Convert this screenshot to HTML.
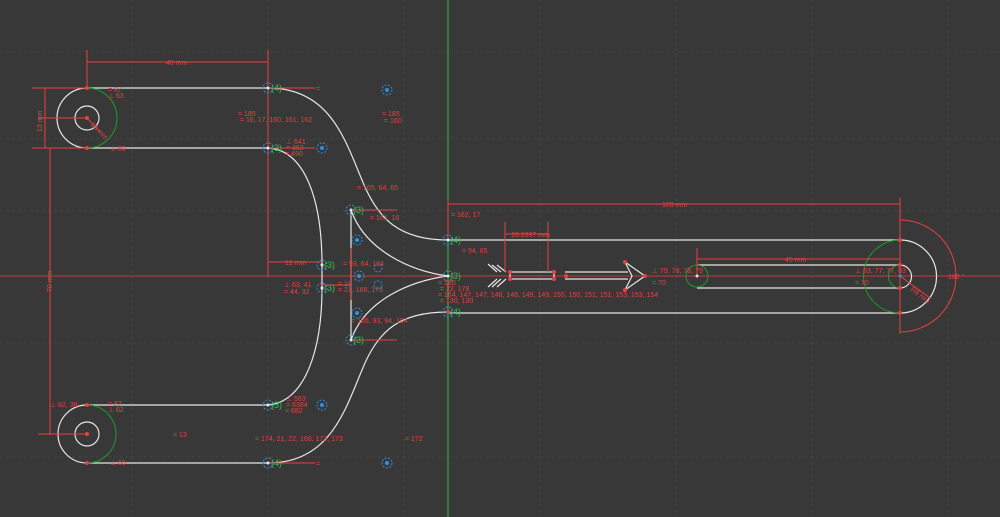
<!DOCTYPE html>
<html><head><meta charset="utf-8"><style>
html,body{margin:0;padding:0;background:#383838;}
svg{display:block;}
text{font-family:"Liberation Sans",sans-serif;font-size:7px;fill:#e8413f;}
</style></head><body>
<svg width="1000" height="517" viewBox="0 0 1000 517" xmlns="http://www.w3.org/2000/svg">
<rect width="1000" height="517" fill="#383838"/>
<g stroke="#444" stroke-width="1" stroke-dasharray="3,3">
<line x1="132" y1="0" x2="132" y2="517"/><line x1="268" y1="0" x2="268" y2="517"/><line x1="404" y1="0" x2="404" y2="517"/><line x1="540" y1="0" x2="540" y2="517"/><line x1="676" y1="0" x2="676" y2="517"/><line x1="812" y1="0" x2="812" y2="517"/><line x1="948" y1="0" x2="948" y2="517"/>
<line x1="0" y1="52" x2="1000" y2="52"/><line x1="0" y1="139" x2="1000" y2="139"/><line x1="0" y1="211" x2="1000" y2="211"/><line x1="0" y1="343" x2="1000" y2="343"/><line x1="0" y1="457" x2="1000" y2="457"/>
</g>
<line x1="0" y1="276" x2="1000" y2="276" stroke="#c93a3a" stroke-width="1"/>
<line x1="448" y1="0" x2="448" y2="517" stroke="#2fc24a" stroke-width="1"/>

<g fill="none" stroke="#e6e6e6" stroke-width="1.2">
<circle cx="87" cy="118" r="12"/>
<path d="M87,88 A30,30 0 0 0 87,148"/>
<line x1="87" y1="88" x2="268" y2="88"/>
<line x1="87" y1="148" x2="268" y2="148"/>
<circle cx="87" cy="434" r="12"/>
<path d="M87,405 A29,29 0 0 0 87,463"/>
<line x1="87" y1="405" x2="268" y2="405"/>
<line x1="87" y1="463" x2="268" y2="463"/>
<path d="M268,88 C330,88 345,140 362,180 C378,220 400,240 448,240"/>
<path d="M268,463 C330,463 345,410 362,370 C378,330 400,312 448,312"/>
<path d="M268,148 C305,150 322,200 322,265 L322,288 C322,350 305,402 268,405"/>
<path d="M351,210 C365,250 410,271 448,276 C410,281 365,300 351,340 Z"/>
<line x1="448" y1="240" x2="900" y2="240"/>
<line x1="448" y1="313" x2="900" y2="313"/>
<path d="M900,240 A36.5,36.5 0 0 1 900,313"/>
<line x1="697" y1="265" x2="900" y2="265"/>
<line x1="697" y1="288" x2="900" y2="288"/>
<path d="M900,265 A11.5,11.5 0 0 1 900,288"/>
<path d="M488,264 L497,272 M492,265 L501,272 M497,265 L506,272 M488,287 L497,279 M492,287 L501,279 M497,287 L506,279"/>
<rect x="510" y="272" width="44" height="7"/>
<path d="M565,272 L628,272 M565,279 L628,279"/>
<path d="M625,262 L645,276 L625,290 L632,276 Z"/>
</g>
<g fill="none" stroke="#1f9a2f" stroke-width="1">
<path d="M87,88 A30,30 0 0 1 87,148"/>
<path d="M87,405 A29,29 0 0 1 87,463"/>
<circle cx="697" cy="276" r="11"/>
<path d="M900,240 A36.5,36.5 0 0 0 900,313"/>
<path d="M900,265 A11.5,11.5 0 0 0 900,288"/>
</g>

<g stroke="#e8413f" stroke-width="1" fill="none">
<line x1="87" y1="50" x2="87" y2="88"/><line x1="268" y1="50" x2="268" y2="148"/>
<line x1="87" y1="62" x2="268" y2="62"/>
<line x1="32" y1="88" x2="87" y2="88"/><line x1="32" y1="148" x2="87" y2="148"/>
<line x1="45" y1="88" x2="45" y2="148"/>
<line x1="38" y1="118" x2="87" y2="118"/>
<line x1="50" y1="148" x2="50" y2="435"/>
<line x1="38" y1="434" x2="87" y2="434"/>
<line x1="268" y1="148" x2="268" y2="276"/>
<line x1="268" y1="262" x2="322" y2="262"/>
<line x1="268" y1="88" x2="315" y2="88"/><line x1="268" y1="463" x2="315" y2="463"/>
<line x1="268" y1="148" x2="315" y2="148"/>
<line x1="351" y1="210" x2="397" y2="210"/><line x1="351" y1="340" x2="397" y2="340"/>
<line x1="448" y1="200" x2="448" y2="240"/><line x1="900" y1="198" x2="900" y2="334"/>
<line x1="448" y1="204" x2="900" y2="204"/>
<line x1="505" y1="222" x2="505" y2="272"/><line x1="548" y1="222" x2="548" y2="272"/>
<line x1="505" y1="234" x2="548" y2="234"/>
<line x1="697" y1="248" x2="697" y2="276"/>
<line x1="697" y1="259" x2="900" y2="259"/>
<path d="M900,220 A56,56 0 0 1 900,332"/>
<line x1="900" y1="276" x2="930" y2="298"/>
<line x1="87" y1="118" x2="100" y2="132"/>
<line x1="322" y1="285" x2="350" y2="285"/>
<line x1="351" y1="248" x2="351" y2="300"/>
</g>
<g fill="#e8413f">
<circle cx="87" cy="88" r="2"/><circle cx="87" cy="148" r="2"/><circle cx="87" cy="118" r="2"/>
<circle cx="87" cy="405" r="2"/><circle cx="87" cy="463" r="2"/><circle cx="87" cy="434" r="2"/>
<circle cx="900" cy="240" r="2"/><circle cx="900" cy="313" r="2"/><circle cx="900" cy="265" r="2"/><circle cx="900" cy="288" r="2"/>
<circle cx="510" cy="272" r="2"/><circle cx="510" cy="279" r="2"/><circle cx="554" cy="272" r="2"/><circle cx="554" cy="279" r="2"/>
<circle cx="625" cy="262" r="2"/><circle cx="625" cy="290" r="2"/><circle cx="645" cy="276" r="2"/>
<circle cx="448" cy="312" r="2"/><circle cx="566" cy="276" r="2"/>
</g>
<g fill="none" stroke="#2f8fe0" stroke-width="1" stroke-dasharray="2,1.5">
<circle cx="268" cy="88" r="5"/><circle cx="268" cy="148" r="5"/><circle cx="322" cy="148" r="5"/><circle cx="387" cy="90" r="5"/>
<circle cx="351" cy="210" r="5"/><circle cx="357" cy="240" r="5"/><circle cx="322" cy="265" r="5"/><circle cx="322" cy="288" r="5"/>
<circle cx="359" cy="276" r="5"/><circle cx="378" cy="268" r="4"/><circle cx="378" cy="285" r="4"/><circle cx="357" cy="313" r="5"/>
<circle cx="351" cy="340" r="5"/><circle cx="448" cy="240" r="5"/><circle cx="448" cy="276" r="5"/><circle cx="448" cy="312" r="5"/>
<circle cx="268" cy="405" r="5"/><circle cx="322" cy="405" r="5"/><circle cx="268" cy="463" r="5"/><circle cx="387" cy="463" r="5"/>
</g>
<g fill="#2f8fe0">
<circle cx="387" cy="90" r="2"/><circle cx="322" cy="148" r="2"/><circle cx="357" cy="240" r="2"/><circle cx="359" cy="276" r="2"/><circle cx="357" cy="313" r="2"/><circle cx="322" cy="405" r="2"/><circle cx="387" cy="463" r="2"/><circle cx="900" cy="276" r="1.5"/>
</g>
<g fill="#e6e6e6"><circle cx="268" cy="88" r="1.5"/><circle cx="268" cy="148" r="1.5"/><circle cx="351" cy="210" r="1.5"/><circle cx="448" cy="240" r="1.5"/><circle cx="448" cy="276" r="1.5"/><circle cx="322" cy="265" r="1.5"/><circle cx="322" cy="288" r="1.5"/><circle cx="351" cy="340" r="1.5"/><circle cx="268" cy="405" r="1.5"/><circle cx="268" cy="463" r="1.5"/><circle cx="697" cy="276" r="1.5"/></g>
<g>
<text x="271" y="91" style="fill:#2fc24a;font-size:9px">(4)</text>
<text x="271" y="151" style="fill:#2fc24a;font-size:9px">(3)</text>
<text x="353" y="213" style="fill:#2fc24a;font-size:9px">(3)</text>
<text x="450" y="243" style="fill:#2fc24a;font-size:9px">(4)</text>
<text x="450" y="279" style="fill:#2fc24a;font-size:9px">(3)</text>
<text x="450" y="315" style="fill:#2fc24a;font-size:9px">(4)</text>
<text x="324" y="268" style="fill:#2fc24a;font-size:9px">(3)</text>
<text x="324" y="291" style="fill:#2fc24a;font-size:9px">(3)</text>
<text x="353" y="343" style="fill:#2fc24a;font-size:9px">(3)</text>
<text x="271" y="408" style="fill:#2fc24a;font-size:9px">(3)</text>
<text x="271" y="466" style="fill:#2fc24a;font-size:9px">(4)</text>
</g>
<text x="166" y="65">40 mm</text>
<text x="42" y="132" transform="rotate(-90 42 132)">13 mm</text>
<text x="52" y="292" transform="rotate(-90 52 292)">70 mm</text>
<text x="285" y="265">12 mm</text>
<text x="662" y="207">100 mm</text>
<text x="511" y="237">10.2397 mm</text>
<text x="785" y="262">45 mm</text>
<text x="948" y="279">180 °</text>
<text x="910" y="290" transform="rotate(38 910 290)">R8 mm</text>
<text x="90" y="125" transform="rotate(45 90 125)">10 mm</text>
<text x="108" y="92">= 87</text><text x="108" y="98">⊥ 63</text>
<text x="110" y="151">⊥ 60</text>
<text x="238" y="116">= 185</text><text x="240" y="122">= 16, 17, 160, 161, 162</text>
<text x="382" y="116">= 185</text><text x="384" y="123">= 160</text>
<text x="286" y="144">⊥ 641</text><text x="286" y="150">= 362</text><text x="285" y="156">= 490</text>
<text x="357" y="190">= 165, 64, 65</text>
<text x="370" y="220">= 161, 16</text>
<text x="343" y="266">= 93, 64, 104</text>
<text x="284" y="287">⊥ 63, 41</text><text x="284" y="294">= 44, 32</text>
<text x="338" y="286">= 18</text><text x="338" y="292">= 21, 168, 173</text>
<text x="351" y="323">= 165, 93, 94, 104</text>
<text x="451" y="217">= 162, 17</text>
<text x="462" y="253">= 94, 65</text>
<text x="438" y="285">= 180</text><text x="440" y="291">= 22, 178</text>
<text x="438" y="297">= 164, 147, 147, 148, 148, 149, 149, 150, 150, 151, 151, 153, 153, 154</text>
<text x="440" y="303">= 130, 130</text>
<text x="652" y="273">⊥ 79, 78, 78, 79</text><text x="652" y="285">= 70</text>
<text x="855" y="273">⊥ 83, 77, 77, 83</text><text x="855" y="285">= 70</text>
<text x="50" y="407">⊥ 82, 38</text>
<text x="108" y="406">= 87</text><text x="108" y="412">⊥ 62</text>
<text x="110" y="465">⊥ 60</text><text x="173" y="437">= 13</text>
<text x="286" y="401">⊥ 563</text><text x="286" y="407">= 6384</text><text x="285" y="413">= 682</text>
<text x="255" y="441">= 174, 21, 22, 168, 172, 173</text>
<text x="405" y="441">= 172</text>
<text x="316" y="91">=</text><text x="316" y="466">=</text>
</svg>
</body></html>
